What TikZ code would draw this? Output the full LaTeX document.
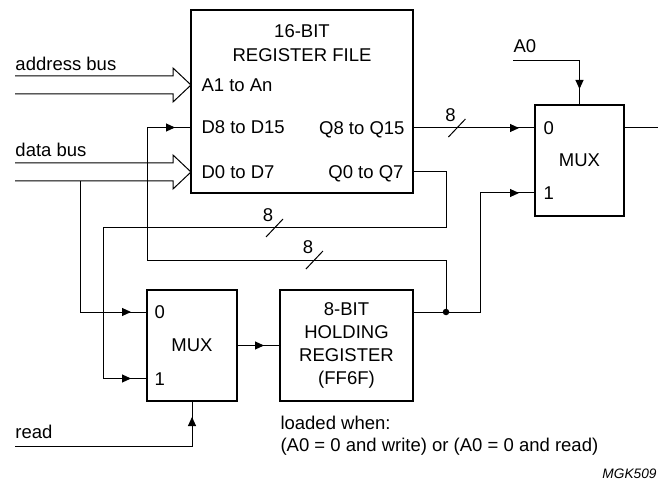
\documentclass[tikz,border=0pt]{standalone}
\usepackage{fontspec}
\setmainfont{Liberation Sans}
\usepackage{tikz}
\usetikzlibrary{arrows.meta, positioning, calc, decorations.markings}

% hollow bus arrow from #1 to tip #2
\newcommand{\busarrow}[2]{%
  \draw (#1) ++(0,-9) -| ($(#2)+(-18,-17)$) -- (#2) -- ($(#2)+(-18,17)$) |- ($(#1)+(0,9)$);}
% width mark on a bus line
\newcommand{\busslash}[2]{%
  \draw ($(#1)+(-8.5,9)$) -- ($(#1)+(8.5,-9)$);
  \node[port] (#2) at ($(#1)+(-6.5,-12.5)$) {8};}

\begin{document}
\begin{tikzpicture}[
  x=1pt, y=-1pt,
  line width=1pt,
  font=\fontsize{18.5}{23}\selectfont,
  box/.style={rectangle, draw, line width=2pt, outer sep=0pt, inner sep=0pt, align=center},
  port/.style={inner sep=0pt, text height=13pt, text depth=0pt},
  lbl/.style={inner sep=0pt, anchor=base west},
  dot/.style={circle, fill, inner sep=0pt, minimum size=6.5pt},
  inarrow/.style={postaction=decorate, decoration={markings,
      mark=at position -16pt with {\arrow{Triangle[length=9pt,width=8pt]}}}}
]
\useasboundingbox (0,0) rectangle (658,486);

% Register file
\node[box, minimum width=222pt, minimum height=183pt] (regfile) at (302,101.5) {};
\node[inner sep=0pt, align=center, font=\fontsize{18.5}{24}\selectfont, below=14pt of regfile.north] (title) {16-BIT\\REGISTER FILE};
\node[port, anchor=west] (a1) at (201,85) {A1 to An};
\node[port, anchor=west] (d8) at (201,127.5) {D8 to D15};
\node[port, anchor=west] (d0) at (201,172) {D0 to D7};
\node[port, anchor=east] (q8) at (405,128) {Q8 to Q15};
\node[port, anchor=east] (q0) at (404,172) {Q0 to Q7};

% Output MUX
\node[box, minimum width=89pt, minimum height=111pt] (muxa) at (579.5,160.5) {MUX};
\node[port, anchor=west] (ma0) at (543,128) {0};
\node[port, anchor=west] (ma1) at (543,193) {1};

% Input MUX and holding register
\node[box, minimum width=90pt, minimum height=111pt] (muxb) at (192,345.5) {MUX};
\node[port, anchor=west] (mb0) at (154,312) {0};
\node[port, anchor=west] (mb1) at (154,378.5) {1};
\node[box, minimum width=133pt, minimum height=111pt, right=43pt of muxb] (hold) {8-BIT\\HOLDING\\REGISTER\\(FF6F)};

% Texts
\node[lbl] (addrlbl) at (15,70.7) {address bus};
\node[lbl] (datalbl) at (15,156.7) {data bus};
\node[lbl] (readlbl) at (15,438) {read};
\node[lbl] (a0lbl) at (513,53) {A0};
\node[inner sep=0pt, align=left, font=\fontsize{18.5}{22}\selectfont, below right=15pt and 0pt of hold.south west] (note) {loaded when:\\(A0 = 0 and write) or (A0 = 0 and read)};
\node[inner sep=0pt, anchor=base east, font=\fontsize{13.7}{16}\selectfont\itshape] (code) at (657,478) {MGK509};

% Points
\coordinate (addr) at (15,85);
\coordinate (data) at (15,172);
\coordinate (atip) at (regfile.west |- a1);
\coordinate (dtip) at (regfile.west |- d0);
\coordinate (dtap) at (80,181);
\coordinate (rd) at (15,446);
\coordinate (a0) at (513,61);
\coordinate (out) at (658,128);
\coordinate (jn) at (446,312);
\coordinate (hturn) at (480,312);
\coordinate (qturn) at (446,228);
\coordinate (qback) at (103,228);
\coordinate (dturn) at (446,260);
\coordinate (dback) at (147,260);

% Buses
\busarrow{addr}{atip}
\busarrow{data}{dtip}

% Wires
\draw[inarrow] (regfile.east |- q8) -- coordinate[pos=0.36] (s1) (muxa.west |- ma0);
\draw[inarrow] (regfile.east |- q0) -| (qturn) -- coordinate[pos=0.5] (s2) (qback) |- (muxb.west |- mb1);
\draw[inarrow] (jn) -- (dturn) -- coordinate[pos=0.44] (s3) (dback) |- (regfile.west |- d8);
\draw[inarrow] (hold.east |- jn) -- (hturn) |- (muxa.west |- ma1);
\draw[inarrow] (dtap) |- (muxb.west |- mb0);
\draw[inarrow] (muxb) -- (hold);
\draw[inarrow] (rd) -| (muxb.south);
\draw[inarrow] (a0) -| (muxa.north);
\draw (muxa.east |- ma0) -- (out);
\node[dot] (jdot) at (jn) {};

\busslash{s1}{w1}
\busslash{s2}{w2}
\busslash{s3}{w3}

\end{tikzpicture}
\end{document}
